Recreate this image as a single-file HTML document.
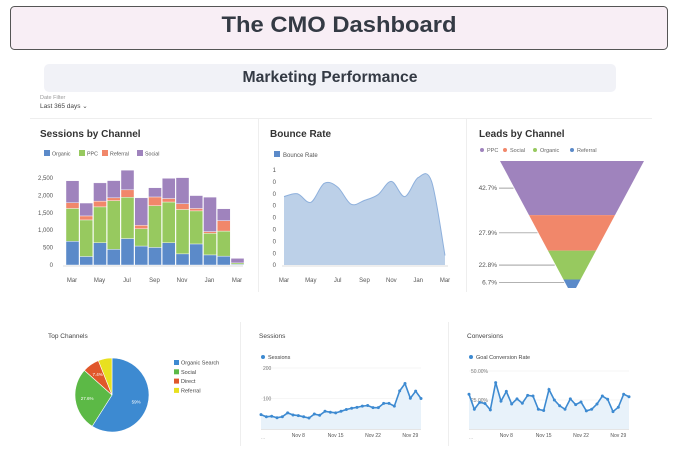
<!DOCTYPE html>
<html><head><meta charset="utf-8">
<style>
html,body{margin:0;padding:0;background:#fff;}
body{width:674px;height:451px;overflow:hidden;font-family:"Liberation Sans",sans-serif;}
svg text{font-family:"Liberation Sans",sans-serif;}
</style></head>
<body>
<svg id="s" width="674" height="451" viewBox="0 0 674 451" xmlns="http://www.w3.org/2000/svg">
<rect x="10.5" y="6.5" width="657" height="43" rx="4" fill="#f8eef5" stroke="#555" stroke-width="1"/>
<text x="339" y="32" text-anchor="middle" font-size="22" font-weight="bold" fill="#343a44" textLength="235" lengthAdjust="spacingAndGlyphs">The CMO Dashboard</text>
<rect x="44" y="64" width="572" height="28" rx="5" fill="#f1f2f7"/>
<text x="330" y="82" text-anchor="middle" font-size="16" font-weight="bold" fill="#343a44" textLength="175" lengthAdjust="spacingAndGlyphs">Marketing Performance</text>
<text x="40" y="99" font-size="5.5" fill="#999">Date Filter</text>
<text x="40" y="108" font-size="6.5" fill="#444">Last 365 days ⌄</text>
<line x1="30" y1="118.5" x2="652" y2="118.5" stroke="#eee"/>
<line x1="258.5" y1="118" x2="258.5" y2="292" stroke="#eee"/>
<line x1="466.5" y1="118" x2="466.5" y2="292" stroke="#eee"/>
<line x1="240.5" y1="322" x2="240.5" y2="446" stroke="#eee"/>
<line x1="448.5" y1="322" x2="448.5" y2="446" stroke="#eee"/>
<g id="g"></g>
</svg>
<script>
// Sessions by channel
const barMonths = ["Mar","Apr","May","Jun","Jul","Aug","Sep","Oct","Nov","Dec","Jan","Feb","Mar"];
const organic = [680,245,640,450,760,545,505,640,320,605,290,255,20];
const ppc = [945,1050,1030,1400,1185,495,1200,1170,1275,950,620,720,40];
const referral = [165,115,165,80,215,100,250,100,165,70,50,300,0];
const social = [630,370,525,495,565,790,265,580,750,370,990,340,130];
const barTicks = [0,500,1000,1500,2000,2500];
// Bounce rate
const bounceMonths = ["Mar","Apr","May","Jun","Jul","Aug","Sep","Oct","Nov","Dec","Jan","Feb","Mar"];
const bounce = [0.72,0.75,0.66,0.86,0.82,0.64,0.68,0.74,0.88,0.72,0.92,0.88,0.10];
// Funnel
const funnelLabels = ["PPC","Social","Organic","Referral"];
const funnelValues = [42.7,27.9,22.8,6.7];
// Pie
const pieLabels = ["Organic Search","Social","Direct","Referral"];
const pieValues = [59,27.6,7.4,6];
// Daily sessions / conversions
const sessions = [47,40,42,37,40,53,46,44,40,36,49,45,58,55,53,58,64,68,71,75,77,70,70,84,84,75,125,149,101,124,100];
const conversions = [30,17,23,22,16.5,40,24,32.4,21.6,26,22.2,29,28.4,17,15.9,34,25,20,17,26,21,23.3,15.6,17,21.6,28.4,25.6,15,18.8,30,27.8];
const dayLabels = ["Nov 8","Nov 15","Nov 22","Nov 29"];
const dayLabelIdx = [7,14,21,28];

const NS="http://www.w3.org/2000/svg";
const G=document.getElementById('g');
function el(tag,attrs,parent,txt){const e=document.createElementNS(NS,tag);for(const k in attrs)e.setAttribute(k,attrs[k]);if(txt!==undefined)e.textContent=txt;(parent||G).appendChild(e);return e;}
function smooth(pts){let d="M"+pts[0][0]+","+pts[0][1];for(let i=0;i<pts.length-1;i++){const p0=pts[Math.max(0,i-1)],p1=pts[i],p2=pts[i+1],p3=pts[Math.min(pts.length-1,i+2)];const c1=[p1[0]+(p2[0]-p0[0])/6,p1[1]+(p2[1]-p0[1])/6],c2=[p2[0]-(p3[0]-p1[0])/6,p2[1]-(p3[1]-p1[1])/6];d+=" C"+c1+" "+c2+" "+p2;}return d;}

const COL={org:"#5b8ac9",ppc:"#97c95f",ref:"#f1876a",soc:"#9f83bd"};
// ---- Sessions by channel
let t=el('text',{x:40,y:137,'font-size':10,'font-weight':'bold',fill:'#333'},G,'Sessions by Channel');


[["Organic",COL.org,44],["PPC",COL.ppc,79],["Referral",COL.ref,102],["Social",COL.soc,137]].forEach(([n,c,x])=>{
 const g=el('g',{});
 
 
 el('rect',{x:x,y:150,width:6,height:6,fill:c},g);
 el('text',{x:x+8,y:155.5,'font-size':5.3,fill:'#555'},g,n);
});
const by=v=>265-v*(87/2500);
const bx=i=>66+i*13.75;
barTicks.forEach(v=>{const tt=el('text',{x:53,y:by(v)+2,'font-size':6,fill:'#555','text-anchor':'end'},G,v.toLocaleString('en-US'));
 
 });
el('line',{x1:63,y1:266,x2:243,y2:266,stroke:'#ddd'});
barMonths.forEach((m,i)=>{
 let base=0;
 [[organic,COL.org],[ppc,COL.ppc],[referral,COL.ref],[social,COL.soc]].forEach(([arr,c],k)=>{
  const v=arr[i]; if(v<=0)return;
  const r=el('rect',{x:bx(i),y:by(base+v),width:13,height:by(base)-by(base+v),fill:c,stroke:'#fff','stroke-width':0.4});
  
  
  base+=v;});
 if(i%2===0){const tt=el('text',{x:bx(i)+6,y:282,'font-size':6,fill:'#555','text-anchor':'middle'},G,m);
  
  }
});
// ---- Bounce rate
t=el('text',{x:270,y:137,'font-size':10,'font-weight':'bold',fill:'#333'},G,'Bounce Rate');


const lb=el('g',{});


el('rect',{x:274,y:151,width:6,height:6,fill:'#5b8ac9'},lb);
el('text',{x:283,y:157,'font-size':6,fill:'#555'},lb,'Bounce Rate');
const ry=v=>265-v*95, rx=i=>284+i*(161/12);
[1,0,0,0,0,0,0,0,0].forEach((v,k)=>{const tt=el('text',{x:276,y:172+k*11.9,'font-size':6,fill:'#555','text-anchor':'end'},G,String(v));
 
 });
const bp=bounce.map((v,i)=>[rx(i),ry(v)]);
const ld=smooth(bp);
let a=el('path',{d:ld+` L${rx(12)},265 L284,265 Z`,fill:'#bcd0e8'});


el('path',{d:ld,fill:'none',stroke:'#8eb0dc','stroke-width':1});
el('line',{x1:282,y1:266,x2:448,y2:266,stroke:'#ddd'});
bounceMonths.forEach((m,i)=>{if(i%2===0){const tt=el('text',{x:rx(i),y:282,'font-size':6,fill:'#555','text-anchor':'middle'},G,m);
 
 }});
// ---- Funnel
t=el('text',{x:479,y:137,'font-size':10,'font-weight':'bold',fill:'#333'},G,'Leads by Channel');


const FC=["#9f83bd","#f1876a","#97c95f","#5b8ac9"];
[482,505,535,572].forEach((x,i)=>{const g=el('g',{});
 
 
 el('circle',{cx:x,cy:150,r:2,fill:FC[i]},g);
 el('text',{x:x+5,y:152,'font-size':5.5,fill:'#666'},g,funnelLabels[i]);});
const fTop=161, fH=127, cx=572, wTop=144, wBot=8;
const tot=funnelValues.reduce((s,v)=>s+v,0);
const hw=y=>(wTop+(wBot-wTop)*(y-fTop)/fH)/2;
let acc=0;
funnelValues.forEach((v,i)=>{
 const y0=fTop+acc/tot*fH, y1=fTop+(acc+v)/tot*fH; acc+=v;
 const p=el('polygon',{points:`${cx-hw(y0)},${y0} ${cx+hw(y0)},${y0} ${cx+hw(y1)},${y1} ${cx-hw(y1)},${y1}`,fill:FC[i]});
 
 
 const ly=i===3?y0+(y1-y0)/2-1:(y0+y1)/2;
 el('line',{x1:499,y1:ly,x2:cx-hw(ly)-1,y2:ly,stroke:'#666','stroke-width':0.6});
 const tt=el('text',{x:497,y:ly+2,'font-size':6.5,fill:'#555','text-anchor':'end'},G,v+'%');
 
 
});
// ---- Pie
t=el('text',{x:48,y:338,'font-size':6.5,fill:'#444'},G,'Top Channels');


const PC=["#3d8ad1","#5cb946","#e0572a","#e8e01f"];
const pcx=112,pcy=395,pr=37;
const ptot=pieValues.reduce((s,v)=>s+v,0);let ang=-Math.PI/2;
pieValues.forEach((v,i)=>{
 const a0=ang,a1=ang+v/ptot*2*Math.PI;ang=a1;
 const large=(a1-a0)>Math.PI?1:0;
 const p=el('path',{d:`M${pcx},${pcy} L${pcx+pr*Math.cos(a0)},${pcy+pr*Math.sin(a0)} A${pr},${pr} 0 ${large} 1 ${pcx+pr*Math.cos(a1)},${pcy+pr*Math.sin(a1)} Z`,fill:PC[i],stroke:'#fff','stroke-width':0.6});
 
 
 if(v>7){const m=(a0+a1)/2,rr=pr*0.68;
  el('text',{x:pcx+rr*Math.cos(m),y:pcy+rr*Math.sin(m)+1.5,'font-size':4.5,fill:i===3?'#333':'#fff','text-anchor':'middle'},G,v+'%');}
 const g=el('g',{});
 
 
 const ly=360+i*9.3;
 el('rect',{x:174,y:ly,width:5,height:5,fill:PC[i]},g);
 el('text',{x:181,y:ly+4.5,'font-size':5.5,fill:'#444'},g,pieLabels[i]);
});
// ---- Line charts
function lineChart(x0,x1,title,legend,data,yOf,grid,name){
 let tt=el('text',{x:x0-2,y:338,'font-size':6.5,fill:'#444'},G,title);
 
 
 const lg=el('g',{});
 
 
 el('circle',{cx:x0+2,cy:357,r:2,fill:'#3d8ad1'},lg);
 el('text',{x:x0+7,y:359,'font-size':5.5,fill:'#444'},lg,legend);
 grid.forEach(([v,lab])=>{const y=yOf(v);el('line',{x1:x0,y1:y,x2:x1,y2:y,stroke:'#eee','stroke-width':0.6});
  el('text',{x:x0+2,y:y+2,'font-size':5,fill:'#777'},G,lab);});
 const xs=i=>x0+i*(x1-x0)/(data.length-1);
 const pts=data.map((v,i)=>[xs(i),yOf(v)]);
 const d="M"+pts.map(p=>p.join(',')).join(' L');
 const ar=el('path',{d:d+` L${x1},429 L${x0},429 Z`,fill:'#e8f2fa'});
 
 
 const ln=el('path',{d:d,fill:'none',stroke:'#3d8ad1','stroke-width':1.6});
 
 
 pts.forEach(p=>el('circle',{cx:p[0],cy:p[1],r:1.5,fill:'#3d8ad1'}));
 el('line',{x1:x0,y1:429.5,x2:x1,y2:429.5,stroke:'#ccc','stroke-width':0.6});
 dayLabels.forEach((lab,k)=>{const q=el('text',{x:xs(dayLabelIdx[k]),y:437,'font-size':5,fill:'#555','text-anchor':'middle'},G,lab);
  
  });
 el('text',{x:x0,y:439,'font-size':5,fill:'#aaa'},G,'...');
}
lineChart(261,421,'Sessions','Sessions',sessions,v=>429-v*0.305,[[200,'200'],[100,'100']],'sessions');
lineChart(469,629,'Conversions','Goal Conversion Rate',conversions,v=>429-v*1.16,[[50,'50.00%'],[25,'25.00%']],'conversions');
</script>
</body></html>
